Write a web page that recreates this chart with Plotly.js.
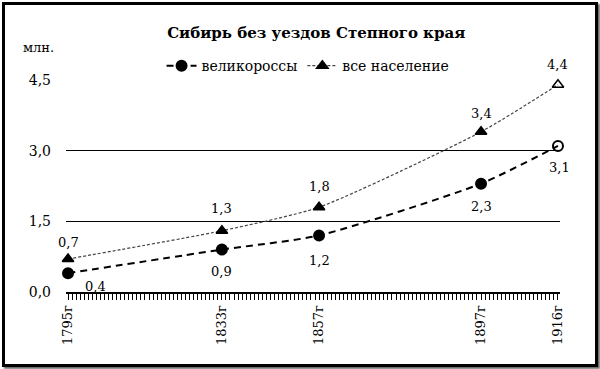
<!DOCTYPE html>
<html><head><meta charset="utf-8">
<script src="https://cdn.plot.ly/plotly-3.0.1.min.js"></script>
<style>
html,body{margin:0;padding:0;background:#fff;}
#wrap{position:relative;width:600px;height:369px;}
#chart{position:absolute;left:0;top:0;width:600px;height:369px;}
#frame{position:absolute;left:2px;top:2px;width:590px;height:359px;border:3px solid #000;pointer-events:none;box-shadow:2px 2px 2px #666;}
</style></head>
<body><div id="wrap"><div id="chart"></div><div id="frame"></div></div>
<script>
const years = [1795, 1833, 1857, 1897, 1916];
const yearLabels = ['1795г', '1833г', '1857г', '1897г', '1916г'];
const greatRussians = [0.4, 0.9, 1.2, 2.3, 3.1];
const allPopulation = [0.7, 1.3, 1.8, 3.4, 4.4];
const greatRussiansLabels = ['0,4', '0,9', '1,2', '2,3', '3,1'];
const allPopulationLabels = ['0,7', '1,3', '1,8', '3,4', '4,4'];

const serif = 'DejaVu Serif';

// one tick per year along the axis, labels only at data years
const allTickVals = [];
const allTickText = [];
for (let yr = years[0]; yr <= years[years.length - 1]; yr++) {
  allTickVals.push(yr);
  const k = years.indexOf(yr);
  allTickText.push(k >= 0 ? yearLabels[k] : '');
}

const traces = [
  {
    x: years, y: greatRussians, name: 'великороссы', type: 'scatter', mode: 'lines+markers',
    line: {color: '#000', width: 2, dash: '7px,5px', shape: 'spline', smoothing: 0.6},
    marker: {color: '#000', size: 10, symbol: ['circle','circle','circle','circle','circle-open'], line: {color: '#000', width: 2}},
    cliponaxis: false
  },
  {
    x: years, y: allPopulation, name: 'все население', type: 'scatter', mode: 'lines+markers',
    line: {color: '#444', width: 1.2, dash: '3px,2px', shape: 'spline', smoothing: 0.6},
    marker: {color: '#000', size: 10, symbol: ['triangle-up','triangle-up','triangle-up','triangle-up','triangle-up-open'], line: {color: '#000', width: 1.5}},
    cliponaxis: false
  }
];

const grShift = [[27,-13],[0,-22],[0,-25],[0,-23],[2,-22]];
const apShift = [[0,17],[0,22],[0,21],[0,18],[0,20]];
const annotations = [];
years.forEach((yr, i) => {
  annotations.push({x: yr, y: greatRussians[i], text: greatRussiansLabels[i], showarrow: false,
    xshift: grShift[i][0], yshift: grShift[i][1], font: {family: serif, size: 13, color: '#000'}});
  annotations.push({x: yr, y: allPopulation[i], text: allPopulationLabels[i], showarrow: false,
    xshift: apShift[i][0], yshift: apShift[i][1], font: {family: serif, size: 13, color: '#000'}});
});
annotations.push({xref: 'paper', yref: 'paper', x: -0.055, y: 1.0, yshift: 42, xanchor: 'center', text: 'млн.',
  showarrow: false, font: {family: serif, size: 13, color: '#000'}});

const layout = {
  width: 600, height: 369,
  margin: {l: 66, r: 40, t: 80, b: 77},
  paper_bgcolor: '#fff', plot_bgcolor: '#fff',
  separators: ', ',
  title: {text: '<b>Сибирь без уездов Степного края</b>', x: 0.527, xanchor: 'center', y: 0.91, yanchor: 'middle',
    font: {family: serif, size: 15, color: '#000'}},
  showlegend: true,
  legend: {orientation: 'h', x: 0.49, xanchor: 'center', y: 0.99, yanchor: 'bottom', yref: 'paper',
    font: {family: serif, size: 14, color: '#000'}, bgcolor: 'rgba(0,0,0,0)'},
  xaxis: {
    range: [1794.5, 1916.5], tickmode: 'array', tickvals: allTickVals, ticktext: allTickText,
    tickangle: -90, ticks: 'outside', ticklen: 6, tickcolor: '#000', tickwidth: 1,
    showline: true, linecolor: '#000', linewidth: 2, showgrid: false, zeroline: false,
    tickfont: {family: serif, size: 13, color: '#000'}
  },
  yaxis: {
    range: [0, 4.5], tickmode: 'array', tickvals: [0, 1.5, 3.0, 4.5], tickformat: '.1f',
    showgrid: true, gridcolor: '#000', gridwidth: 1, zeroline: false, showline: false, ticks: '',
    ticklabelstandoff: 14,
    tickfont: {family: serif, size: 14, color: '#000'}
  },
  annotations: annotations
};

Plotly.newPlot('chart', traces, layout, {displayModeBar: false, staticPlot: true});
</script></body></html>
